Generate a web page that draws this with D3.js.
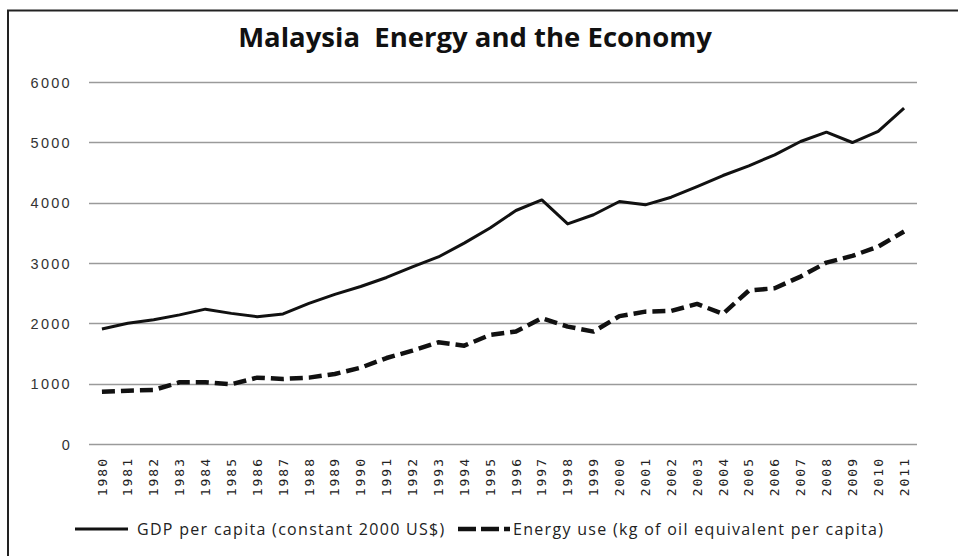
<!DOCTYPE html>
<html>
<head>
<meta charset="utf-8">
<script src="https://cdn.jsdelivr.net/npm/d3@7"></script>
<style>
  html, body { margin: 0; padding: 0; background: #fff; }
  svg { display: block; }
</style>
</head>
<body>
<svg id="chart" width="958" height="556"></svg>
<script>
const title = "Malaysia  Energy and the Economy";
const years = ["1980","1981","1982","1983","1984","1985","1986","1987","1988","1989","1990","1991","1992","1993","1994","1995","1996","1997","1998","1999","2000","2001","2002","2003","2004","2005","2006","2007","2008","2009","2010","2011"];
const gdpLabel = "GDP per capita (constant 2000 US$)";
const gdp = [1905,2000,2058,2140,2235,2165,2110,2156,2330,2480,2610,2760,2935,3100,3330,3580,3870,4045,3648,3800,4020,3964,4090,4267,4450,4610,4793,5014,5169,4997,5180,5567];
const energyLabel = "Energy use (kg of oil equivalent per capita)";
const energy = [867,884,895,1023,1023,990,1100,1078,1100,1160,1265,1425,1547,1686,1630,1808,1863,2085,1946,1863,2120,2194,2206,2322,2156,2543,2582,2775,3007,3118,3272,3521];
const yTicks = [0,1000,2000,3000,4000,5000,6000];

const svg = d3.select("#chart");

// outer frame
svg.append("rect").attr("x", 8).attr("y", 10.5).attr("width", 980).attr("height", 600)
  .attr("fill", "none").attr("stroke", "#222").attr("stroke-width", 2);

const x = d3.scaleBand().domain(years).range([89, 917]).paddingInner(0).paddingOuter(0);
const y = d3.scaleLinear().domain([0, 6000]).range([444, 82]);

// gridlines
svg.append("g").selectAll("line").data(yTicks).join("line")
  .attr("x1", 89).attr("x2", 917)
  .attr("y1", d => Math.round(y(d)) + 0.5).attr("y2", d => Math.round(y(d)) + 0.5)
  .attr("stroke", "#9a9a9a").attr("stroke-width", 1.3);

// y axis labels
const yAxis = d3.axisLeft(y).tickValues(yTicks).tickSize(0).tickPadding(0).tickFormat(d3.format("d"));
const gy = svg.append("g").attr("transform", "translate(72,0)").call(yAxis);
gy.select(".domain").remove();
gy.selectAll("text").attr("font-family", "Liberation Sans, Arial, sans-serif").attr("font-size", 14.5)
  .attr("fill", "#333").attr("dy", "0.36em").style("letter-spacing", "2.3px");

// x axis labels
const xAxis = d3.axisBottom(x).tickSize(0).tickPadding(0);
const gx = svg.append("g").attr("transform", "translate(0,457)").call(xAxis);
gx.select(".domain").remove();
gx.selectAll("text")
  .attr("font-family", "DejaVu Sans Mono, monospace").attr("font-size", 13).attr("fill", "#222")
  .attr("transform", "rotate(-90)")
  .attr("text-anchor", "end").attr("x", 0).attr("y", 0).attr("dy", "0.35em")
  .style("letter-spacing", "2px");

const line = d3.line().x((d, i) => x(years[i]) + x.bandwidth() / 2).y(d => y(d));

svg.append("path").datum(energy).attr("d", line)
  .attr("fill", "none").attr("stroke", "#111").attr("stroke-width", 4.5)
  .attr("stroke-dasharray", "13,6").attr("stroke-linejoin", "round");

svg.append("path").datum(gdp).attr("d", line)
  .attr("fill", "none").attr("stroke", "#111").attr("stroke-width", 3)
  .attr("stroke-linejoin", "round");

// title
svg.append("text").attr("x", 475).attr("y", 47).attr("text-anchor", "middle")
  .attr("font-family", "Open Sans, sans-serif").attr("font-weight", 700).attr("font-size", 27.5)
  .attr("fill", "#111").style("white-space", "pre").text(title);

// legend
const lg = svg.append("g").attr("font-family", "Open Sans, sans-serif").attr("font-size", 16).attr("fill", "#222")
  .style("letter-spacing", "1.3px");
lg.append("line").attr("x1", 75).attr("x2", 128).attr("y1", 529).attr("y2", 529)
  .attr("stroke", "#111").attr("stroke-width", 3);
lg.append("text").attr("x", 137).attr("y", 529).attr("dy", "0.35em").text(gdpLabel);
lg.append("line").attr("x1", 458).attr("x2", 510).attr("y1", 529).attr("y2", 529)
  .attr("stroke", "#111").attr("stroke-width", 4.5).attr("stroke-dasharray", "18,5");
lg.append("text").attr("x", 513).attr("y", 529).attr("dy", "0.35em").text(energyLabel);
</script>
</body>
</html>
